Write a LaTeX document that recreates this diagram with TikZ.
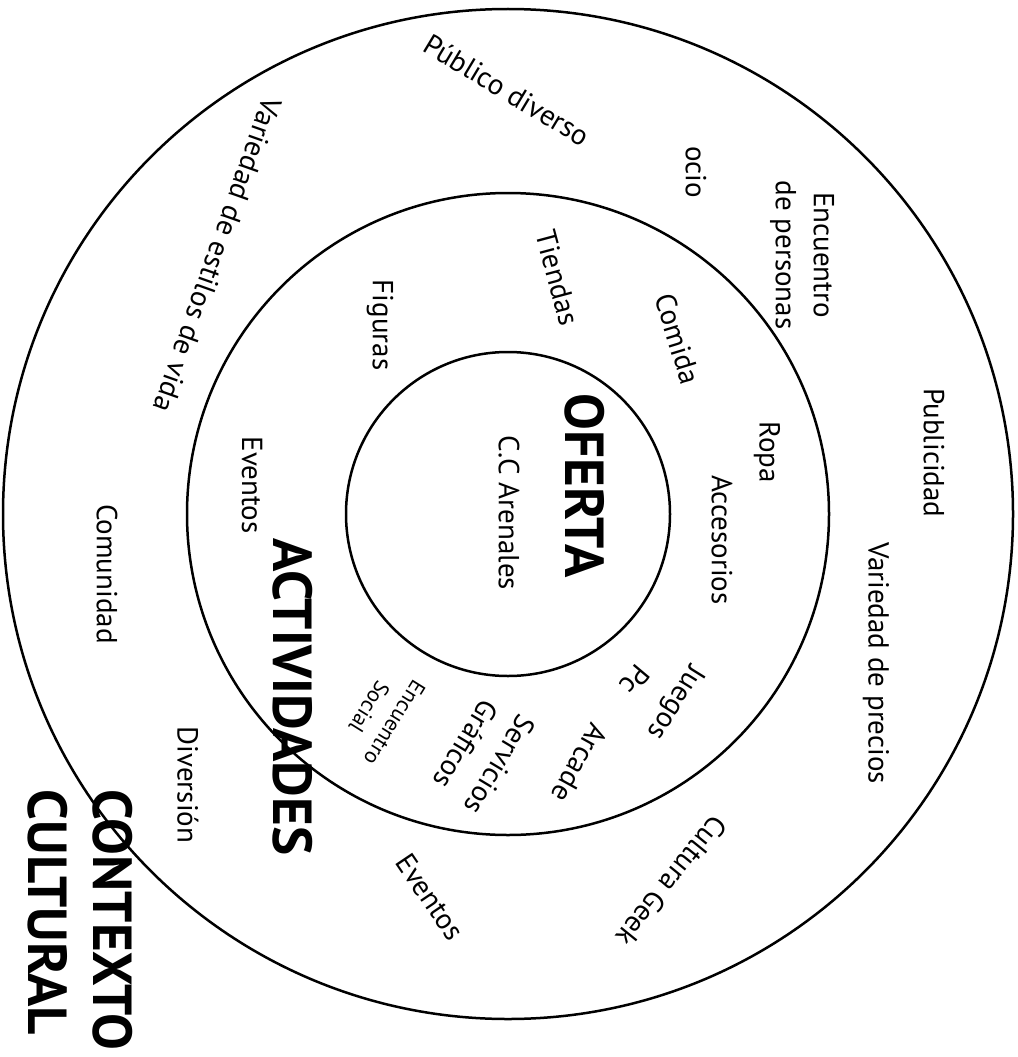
\documentclass[tikz,border=0pt]{standalone}
\usepackage{fontspec}
\setmainfont{PT Sans}
\tikzset{
  ring/.style={line width=2.5pt},
  lbl/.style={font=\fontsize{29}{38}\selectfont, inner sep=0pt, align=center},
  small/.style={font=\fontsize{22}{30}\selectfont, inner sep=0pt, align=center},
  ttl/.style={font=\bfseries\fontsize{55}{65}\selectfont, inner sep=0pt, align=left}
}
\begin{document}
\begin{tikzpicture}[x=1pt,y=-1pt]
\useasboundingbox (0,0) rectangle (1017,1057);
\fill[white] (0,0) rectangle (1017,1057);
\coordinate (c) at (508,514);
\draw[ring] (c) circle[radius=505pt];
\draw[ring] (c) circle[radius=321pt];
\draw[ring] (c) circle[radius=162pt];
% outer ring
\node[lbl, rotate=-31] (pub) at (507,90) {Público diverso};
\node[lbl, rotate=-90] (ocio) at (696,172) {ocio};
\node[lbl, rotate=-90] (encp) at (802,255) {Encuentro\\de personas};
\node[lbl, rotate=-90] (publ) at (934,453) {Publicidad};
\node[lbl, rotate=-90] (prec) at (876,663) {Variedad de precios};
\node[lbl, rotate=-129] (geek) at (672,881) {Cultura Geek};
\node[lbl, rotate=-56] (evb) at (430,897) {Eventos};
\node[lbl, rotate=-90] (div) at (188,785) {Diversión};
\node[lbl, rotate=-90] (comu) at (107,574) {Comunidad};
\node[lbl, rotate=-109.5] (esti) at (218,255) {Variedad de estilos de vida};
\node[ttl, rotate=-90] (ctx) at (80,920) {CONTEXTO\\CULTURAL};
% middle ring
\node[lbl, rotate=-90] (fig) at (380,325) {Figuras};
\node[lbl, rotate=-75] (tien) at (558,278) {Tiendas};
\node[lbl, rotate=-73] (comi) at (678,339) {Comida};
\node[lbl, rotate=-90] (ropa) at (767,452) {Ropa};
\node[lbl, rotate=-90] (acce) at (722,540) {Accesorios};
\node[lbl, rotate=-122] (jueg) at (675,702) {Juegos};
\node[lbl, rotate=-130] (pc) at (635,680) {Pc};
\node[lbl, rotate=-119] (arca) at (580,763) {Arcade};
\node[lbl, rotate=-121, font=\fontsize{29}{40}\selectfont] (serv) at (483,755) {Servicios\\Gráficos};
\node[small, rotate=-122] (encs) at (382,715) {Encuentro\\Social};
\node[lbl, rotate=-90] (evt) at (252,485) {Eventos};
\node[ttl, rotate=-90] (acti) at (293,697) {ACTIVIDADES};
% inner
\node[ttl, rotate=-90] (ofer) at (585,486) {OFERTA};
\node[lbl, rotate=-90] (cca) at (509,513) {C.C Arenales};
\end{tikzpicture}
\end{document}
